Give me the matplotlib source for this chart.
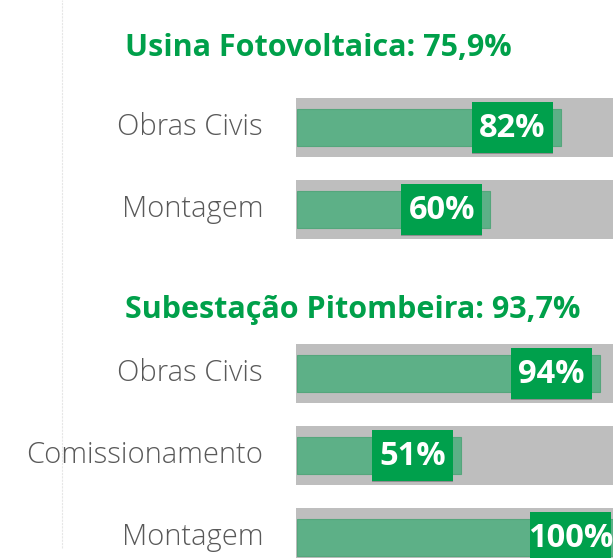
import matplotlib
matplotlib.use("Agg")
import matplotlib.pyplot as plt
import matplotlib.patheffects as pe
from matplotlib.lines import Line2D

GREEN_TITLE = "#00A04A"
GREEN_BAR = "#5DB087"
GREEN_BOX = "#00A04C"
GREY_BG = "#BEBEBE"
LABEL_GREY = "#595959"

groups = ["Usina Fotovoltaica: 75,9%", "Subestação Pitombeira: 93,7%"]
usina_tasks = ["Obras Civis", "Montagem"]
usina_values = [82, 60]
sub_tasks = ["Obras Civis", "Comissionamento", "Montagem"]
sub_values = [94, 51, 100]

# row positions (title of each group takes one slot)
usina_rows = [0, 1]
sub_rows = [3, 4, 5]
title_rows = [-0.872, 2.323]

fig = plt.figure(figsize=(6.13, 5.58), dpi=100, facecolor="white")
ax = fig.add_axes([0, 0, 1, 1])
ax.set_xlim(-92.24, 98.14)
ax.set_ylim(5.25, -1.555)
ax.axis("off")

px = 1 / 3.22  # one pixel in percent units

tasks = usina_tasks + sub_tasks
values = usina_values + sub_values
rows = usina_rows + sub_rows

# background track
ax.barh(rows, [100 + 2] * len(rows), left=-0.3, height=0.72,
        color=GREY_BG, edgecolor="none", zorder=1)
# progress
ax.barh(rows, values, height=0.46, color=GREEN_BAR,
        edgecolor="#55A67C", linewidth=0.8, zorder=2)
# value boxes with shadow
box_w = 81 * px
boxes = ax.barh(rows, [box_w] * len(rows),
                left=[v - 8 * px - box_w for v in values], height=0.62,
                color=GREEN_BOX, edgecolor="none", zorder=3)
for b in boxes:
    b.set_path_effects([pe.SimplePatchShadow(offset=(0, -1), shadow_rgbFace="black",
                                             alpha=0.25), pe.Normal()])
for r, v in zip(rows, values):
    ax.text(v - 8 * px - box_w / 2, r + 0.01, f"{v}%", ha="center", va="center",
            fontsize=23.5, fontweight="bold", color="white", family="Open Sans",
            zorder=4)

for r, t in zip(rows, tasks):
    ax.text(-34 * px, r, t, ha="right", va="center", fontsize=21,
            fontweight="light", color=LABEL_GREY, family="Open Sans")

for r, g in zip(title_rows, groups):
    ax.text(-172 * px, r, g, ha="left", va="baseline", fontsize=22,
            fontweight="bold", color=GREEN_TITLE, family="Open Sans")

fig.add_artist(Line2D([62 / 613, 62 / 613], [10 / 558, 1], color="#E6E6E6",
                      linewidth=0.8, linestyle=(0, (2, 1))))

fig.savefig("out.png", dpi=100, facecolor="white")
